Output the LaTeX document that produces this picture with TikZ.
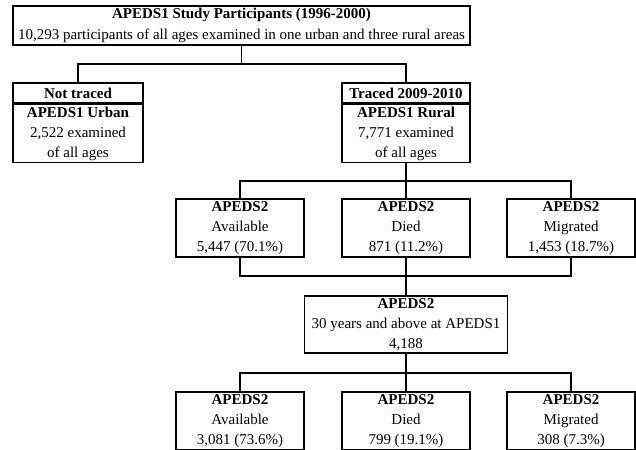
\documentclass[tikz,border=0pt]{standalone}
\usepackage{fontspec}
\setmainfont{Liberation Serif}
\begin{document}
\begin{tikzpicture}[x=1pt,y=-1pt,
  every node/.style={font=\fontsize{15}{20}\selectfont},
  box/.style={draw, line width=1.5pt, inner sep=0pt, align=center, fill=white},
  conn/.style={line width=1.5pt}]
\useasboundingbox (0,0) rectangle (636,449);
\clip (0,0) rectangle (636,449);
\fill[white] (0,0) rectangle (636,449);
% top
\node[box, minimum width=457, minimum height=39] (top) at (241.5,25.5)
  {\textbf{APEDS1 Study Participants (1996-2000)}\\[1.5pt]10,293 participants of all ages examined in one urban and three rural areas};
% urban
\node[box, minimum width=130, minimum height=20] (nth) at (78,93) {\textbf{Not traced}};
\node[box, minimum width=130, minimum height=58, anchor=north] (urban) at (nth.south) {\textbf{APEDS1 Urban}\\2,522 examined\\of all ages};
% rural
\node[box, minimum width=128, minimum height=20] (trh) at (406,93) {\textbf{Traced 2009-2010}};
\node[box, minimum width=128, minimum height=58, anchor=north] (rural) at (trh.south) {\textbf{APEDS1 Rural}\\7,771 examined\\of all ages};
% row 1
\node[box, minimum width=128, minimum height=58] (av1) at (240,228) {\textbf{APEDS2}\\Available\\5,447 (70.1\%)};
\node[box, minimum width=128, minimum height=58] (di1) at (406,228) {\textbf{APEDS2}\\Died\\871 (11.2\%)};
\node[box, minimum width=128, minimum height=58] (mi1) at (571,228) {\textbf{APEDS2}\\Migrated\\1,453 (18.7\%)};
% age
\node[box, minimum width=203, minimum height=57] (age) at (406,324.5) {\textbf{APEDS2}\\30 years and above at APEDS1\\4,188};
% row 2
\node[box, minimum width=128, minimum height=58] (av2) at (240,421) {\textbf{APEDS2}\\Available\\3,081 (73.6\%)};
\node[box, minimum width=128, minimum height=58] (di2) at (406,421) {\textbf{APEDS2}\\Died\\799 (19.1\%)};
\node[box, minimum width=128, minimum height=58] (mi2) at (571,421) {\textbf{APEDS2}\\Migrated\\308 (7.3\%)};
% junctions
\coordinate (j1) at (241.5,64);
\coordinate (j2) at (406,181);
\coordinate (j3) at (406,276);
\coordinate (j4) at (406,373);
% connectors
\draw[conn] (top.south) -- (j1);
\draw[conn] (nth.north) |- (j1) -| (trh.north);
\draw[conn] (rural.south) -- (j2);
\draw[conn] (av1.north) |- (j2) -| (mi1.north);
\draw[conn] (j2) -- (di1.north);
\draw[conn] (av1.south) |- (j3) -| (mi1.south);
\draw[conn] (di1.south) -- (j3) -- (age.north);
\draw[conn] (age.south) -- (j4);
\draw[conn] (av2.north) |- (j4) -| (mi2.north);
\draw[conn] (j4) -- (di2.north);
\end{tikzpicture}
\end{document}
